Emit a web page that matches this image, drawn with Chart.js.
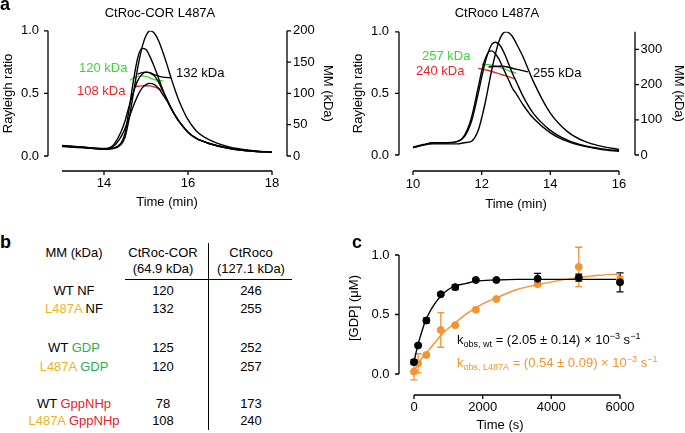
<!DOCTYPE html>
<html>
<head>
<meta charset="utf-8">
<script src="https://cdn.jsdelivr.net/npm/chart.js@4.4.1/dist/chart.umd.min.js"></script>
<style>
  body { margin: 0; background: #fff; }
  #wrap { position: relative; width: 685px; height: 433px; overflow: hidden;
          font-family: 'Liberation Sans', Arial, sans-serif; color: #000; }
  canvas { position: absolute; }
  .t { position: absolute; font-size: 13px; line-height: 13px; white-space: nowrap; }
  .c { width: 140px; text-align: center; }
  .panel { position: absolute; font-weight: bold; font-size: 18px; line-height: 18px; }
  sub, sup { font-size: 9px; line-height: 0; }
  sub { vertical-align: -3px; }
  sup { vertical-align: 5px; }
  .or { color: #f2b21c; }
  .gr { color: #2fae4a; }
  .rd { color: #e8202a; }
</style>
</head>
<body>
<div id="wrap">
  <canvas id="corChart" width="340" height="215" style="left:0;top:0"></canvas>
  <canvas id="rocoChart" width="345" height="215" style="left:340px;top:0"></canvas>
  <canvas id="gdpChart" width="345" height="213" style="left:340px;top:220px"></canvas>

  <!-- panel a labels -->
  <div class="panel" style="left:0;top:-5px">a</div>
  <div class="t c" style="left:90px;top:6px">CtRoc-COR L487A</div>
  <div class="t c" style="left:427px;top:6px">CtRoco L487A</div>
  <div class="t" style="left:79px;top:61px;color:#3fd43a">120 kDa</div>
  <div class="t" style="left:77px;top:84px;color:#e8262b">108 kDa</div>
  <div class="t" style="left:176px;top:66px">132 kDa</div>
  <div class="t" style="left:422px;top:49px;color:#3fd43a">257 kDa</div>
  <div class="t" style="left:416px;top:64px;color:#e8262b">240 kDa</div>
  <div class="t" style="left:533px;top:66px">255 kDa</div>

  <!-- panel b table -->
  <div class="panel" style="left:0;top:233px">b</div>
  <div class="t c" style="left:4px;top:246px">MM (kDa)</div>
  <div class="t c" style="left:93px;top:246px">CtRoc-COR</div>
  <div class="t c" style="left:93px;top:262px">(64.9 kDa)</div>
  <div class="t c" style="left:181px;top:246px">CtRoco</div>
  <div class="t c" style="left:181px;top:262px">(127.1 kDa)</div>
  <div style="position:absolute;left:125px;top:279px;width:167px;height:1px;background:#000"></div>
  <div style="position:absolute;left:208px;top:243px;width:1px;height:187px;background:#000"></div>
  <div id="tableRows"></div>

  <!-- panel c labels -->
  <div class="panel" style="left:352px;top:233px">c</div>
  <div class="t" style="left:500px;top:418px;transform:translateX(-50%)">Time (s)</div>
  <div class="t" style="left:353px;top:308px;transform:translate(-50%,-50%) rotate(-90deg)">[GDP] (μM)</div>
  <div class="t" style="left:457px;top:333px">k<sub>obs, wt</sub> = (2.05 ± 0.14) × 10<sup>−3</sup> s<sup>−1</sup></div>
  <div class="t" style="left:457px;top:356px;color:#f59331">k<sub>obs, L487A</sub> = (0.54 ± 0.09) × 10<sup>−3</sup> s<sup>−1</sup></div>
</div>

<script>
// ---- panel a: CtRoc-COR L487A (time in min, Rayleigh ratio) ----
const corTime = [13.0, 13.5, 14.0, 14.2, 14.4, 14.5, 14.6, 14.7, 14.8, 14.9, 15.0, 15.1, 15.2,
                 15.3, 15.4, 15.5, 15.6, 15.7, 15.8, 16.0, 16.2, 16.5, 17.0, 17.5, 18.0];
const corRatio1 = [0.085, 0.07, 0.055, 0.06, 0.09, 0.15, 0.30, 0.50, 0.70, 0.86, 0.96, 1.00, 0.98,
                   0.92, 0.83, 0.73, 0.62, 0.52, 0.43, 0.29, 0.20, 0.13, 0.07, 0.045, 0.03];
const corRatio2 = [0.08, 0.07, 0.055, 0.06, 0.10, 0.18, 0.38, 0.60, 0.78, 0.86, 0.85, 0.79, 0.71,
                   0.62, 0.53, 0.45, 0.38, 0.32, 0.27, 0.19, 0.14, 0.10, 0.06, 0.04, 0.03];
const corRatio3 = [0.08, 0.07, 0.06, 0.08, 0.19, 0.28, 0.40, 0.51, 0.60, 0.65, 0.67, 0.665, 0.64,
                   0.59, 0.52, 0.45, 0.38, 0.32, 0.27, 0.19, 0.14, 0.10, 0.06, 0.04, 0.03];
const corRatio4 = [0.075, 0.065, 0.055, 0.07, 0.15, 0.22, 0.31, 0.40, 0.48, 0.54, 0.57, 0.58, 0.57,
                   0.54, 0.49, 0.44, 0.38, 0.32, 0.27, 0.19, 0.14, 0.10, 0.06, 0.04, 0.03];
// molar mass traces (kDa)
const corMMGreenT = [14.62, 14.75, 14.9, 15.05, 15.2, 15.4];
const corMMGreen = [121, 126, 128, 126, 122, 120];
const corMMBlackT = [14.8, 15.0, 15.2, 15.4, 15.6];
const corMMBlack = [131, 134, 130, 126, 125];
const corMMRedT = [14.75, 14.9, 15.1, 15.25, 15.4];
const corMMRed = [111, 112, 112, 109, 105];
const corXTicks = [14, 16, 18];
const corMMTicks = [0, 50, 100, 150, 200];

// ---- panel a: CtRoco L487A ----
const rocoTime = [10.0, 10.3, 10.6, 11.0, 11.3, 11.5, 11.7, 11.9, 12.0, 12.1, 12.2, 12.3, 12.4,
                  12.5, 12.6, 12.7, 12.8, 12.9, 13.0, 13.2, 13.5, 14.0, 14.5, 15.0, 15.5, 16.0];
const rocoRatio1 = [0.06, 0.08, 0.09, 0.09, 0.09, 0.10, 0.11, 0.20, 0.30, 0.42, 0.56, 0.70, 0.82,
                    0.92, 0.98, 1.00, 0.99, 0.96, 0.91, 0.80, 0.60, 0.34, 0.19, 0.11, 0.07, 0.045];
const rocoRatio2 = [0.06, 0.08, 0.10, 0.10, 0.11, 0.15, 0.27, 0.50, 0.63, 0.75, 0.84, 0.90, 0.915,
                    0.90, 0.86, 0.80, 0.73, 0.66, 0.60, 0.48, 0.34, 0.20, 0.12, 0.075, 0.05, 0.035];
const rocoRatio3 = [0.065, 0.085, 0.10, 0.10, 0.11, 0.16, 0.30, 0.55, 0.68, 0.78, 0.835, 0.845, 0.82,
                    0.78, 0.72, 0.66, 0.60, 0.54, 0.50, 0.41, 0.30, 0.18, 0.11, 0.07, 0.045, 0.03];
const rocoMMGreenT = [12.0, 12.3, 12.6, 13.0];
const rocoMMGreen = [258, 255, 246, 232];
const rocoMMBlackT = [12.2, 12.6, 13.0, 13.35];
const rocoMMBlack = [250, 252, 244, 236];
const rocoMMRedT = [11.9, 12.2, 12.6, 12.95];
const rocoMMRed = [246, 240, 228, 217];
const rocoXTicks = [10, 12, 14, 16];
const rocoMMTicks = [0, 100, 200, 300];
const ratioTicks = [0, 0.5, 1.0];

// ---- panel b: table ----
const tableRows = [
  ['<span>WT</span> NF', '120', '246'],
  ['<span class="or">L487A</span> NF', '132', '255'],
  ['WT <span class="gr">GDP</span>', '125', '252'],
  ['<span class="or">L487A</span> <span class="gr">GDP</span>', '120', '257'],
  ['WT <span class="rd">GppNHp</span>', '78', '173'],
  ['<span class="or">L487A</span> <span class="rd">GppNHp</span>', '108', '240']
];
const tableRowY = [290, 308, 347, 366, 403, 420];

// ---- panel c: GDP release ----
const gdpTime = [0, 120, 360, 780, 1200, 1800, 2400, 3600, 4800, 6000];
const gdpWt = [0.10, 0.24, 0.45, 0.67, 0.73, 0.79, 0.79, 0.80, 0.81, 0.77];
const gdpWtErr = [0.02, 0.01, 0.02, 0.01, 0.02, 0.01, 0.01, 0.045, 0.03, 0.08];
const gdpMut = [0.02, 0.09, 0.16, 0.37, 0.41, 0.54, 0.63, 0.755, 0.90, 0.79];
const gdpMutErr = [0.07, 0.08, 0.01, 0.145, 0.01, 0.01, 0.01, 0.01, 0.165, 0.03];
const wtFitTime = [0, 100, 200, 300, 400, 600, 800, 1000, 1200, 1500, 1800, 2400, 3000, 4000, 5000, 6000];
const wtFit = [0.10, 0.23, 0.33, 0.42, 0.49, 0.59, 0.66, 0.71, 0.74, 0.76, 0.78, 0.79, 0.795, 0.795, 0.795, 0.795];
const mutFitTime = [0, 200, 400, 600, 800, 1200, 1600, 2000, 2400, 3000, 3600, 4200, 4800, 5400, 6000];
const mutFit = [0.03, 0.12, 0.19, 0.26, 0.33, 0.43, 0.52, 0.59, 0.64, 0.71, 0.75, 0.785, 0.81, 0.83, 0.84];
const gdpXTicks = [0, 2000, 4000, 6000];
const gdpYTicks = [0, 0.5, 1.0];

const ORANGE = '#f59331';
const FONT = 'Liberation Sans, Arial, sans-serif';
Chart.defaults.font.family = FONT;
Chart.defaults.font.size = 13;
Chart.defaults.color = '#000';

// table text
const rowsDiv = document.getElementById('tableRows');
tableRows.forEach((row, i) => {
  const top = tableRowY[i] - 6;
  rowsDiv.insertAdjacentHTML('beforeend',
    `<div class="t c" style="left:4px;top:${top}px">${row[0]}</div>` +
    `<div class="t c" style="left:93px;top:${top}px">${row[1]}</div>` +
    `<div class="t c" style="left:181px;top:${top}px">${row[2]}</div>`);
});

// draws detached axis lines with outward tick marks
const offsetAxes = {
  id: 'offsetAxes',
  afterDraw(chart, args, opts) {
    const ctx = chart.ctx;
    const area = chart.chartArea;
    ctx.save();
    ctx.strokeStyle = '#000';
    ctx.lineWidth = 1.3;
    ctx.beginPath();
    opts.axes.forEach(a => {
      const s = chart.scales[a.id];
      if (s.isHorizontal()) {
        const y = area.bottom + a.gap;
        ctx.moveTo(s.getPixelForValue(s.min), y);
        ctx.lineTo(s.getPixelForValue(s.max), y);
        s.ticks.forEach(t => {
          const x = s.getPixelForValue(t.value);
          ctx.moveTo(x, y);
          ctx.lineTo(x, y + 4);
        });
      } else {
        const right = s.position === 'right';
        const x = right ? area.right + a.gap : area.left - a.gap;
        ctx.moveTo(x, s.getPixelForValue(s.min));
        ctx.lineTo(x, s.getPixelForValue(s.max));
        s.ticks.forEach(t => {
          const y = s.getPixelForValue(t.value);
          ctx.moveTo(x, y);
          ctx.lineTo(right ? x + 4 : x - 4, y);
        });
      }
    });
    ctx.stroke();
    ctx.restore();
  }
};

// vertical error bars with caps
const errorBars = {
  id: 'errorBars',
  beforeDatasetsDraw(chart, args, opts) {
    const ctx = chart.ctx;
    const xs = chart.scales.x, ys = chart.scales.y;
    ctx.save();
    ctx.lineWidth = 1.3;
    opts.sets.forEach(set => {
      ctx.strokeStyle = set.color;
      ctx.beginPath();
      set.x.forEach((t, i) => {
        const e = set.err[i];
        const px = xs.getPixelForValue(t);
        const top = ys.getPixelForValue(set.y[i] + e);
        const bot = ys.getPixelForValue(set.y[i] - e);
        ctx.moveTo(px, top); ctx.lineTo(px, bot);
        ctx.moveTo(px - 3.5, top); ctx.lineTo(px + 3.5, top);
        ctx.moveTo(px - 3.5, bot); ctx.lineTo(px + 3.5, bot);
      });
      ctx.stroke();
    });
    ctx.restore();
  }
};

function pts(xs, ys) {
  return xs.map((x, i) => ({ x: x, y: ys[i] }));
}

function fixedTicks(values) {
  return scale => { scale.ticks = values.map(v => ({ value: v })); };
}

function secChart(id, c) {
  const datasets = c.ratios.map(r => ({
    data: pts(c.time, r), yAxisID: 'y', borderColor: '#000', borderWidth: 1.4,
    pointRadius: 0, cubicInterpolationMode: 'monotone'
  }));
  c.mm.forEach(m => datasets.push({
    data: pts(m.t, m.v), yAxisID: 'y2', borderColor: m.color, borderWidth: 1.4,
    pointRadius: 0, tension: 0.4
  }));
  return new Chart(document.getElementById(id), {
    type: 'line',
    data: { datasets },
    plugins: [offsetAxes],
    options: {
      responsive: false, animation: false, devicePixelRatio: 1,
      layout: { padding: { top: c.top, left: 0, right: 0, bottom: 0 } },
      plugins: {
        legend: { display: false }, tooltip: { enabled: false },
        offsetAxes: { axes: [{ id: 'x', gap: c.gapX }, { id: 'y', gap: 14 }, { id: 'y2', gap: c.gapY2 }] }
      },
      scales: {
        x: {
          type: 'linear', min: c.xMin, max: c.xMax,
          afterBuildTicks: fixedTicks(c.xTicks),
          afterFit: s => { s.height = c.xHeight; },
          grid: { display: false, drawTicks: false }, border: { display: false },
          ticks: { padding: c.xPad, callback: v => String(v) },
          title: { display: true, text: 'Time (min)', font: { size: 13, lineHeight: 1 },
                   padding: { top: 0, bottom: c.xTitlePad } }
        },
        y: {
          position: 'left', min: 0, max: 1,
          afterBuildTicks: fixedTicks(ratioTicks),
          afterFit: s => { s.width = c.yWidth; },
          grid: { display: false, drawTicks: false }, border: { display: false },
          ticks: { padding: c.yPad, callback: v => v.toFixed(1) },
          title: { display: true, text: 'Rayleigh ratio', font: { size: 13, lineHeight: 1 },
                   padding: { top: c.yTitlePad, bottom: 0 } }
        },
        y2: {
          position: 'right', min: 0, max: c.mmMax,
          afterBuildTicks: fixedTicks(c.mmTicks),
          afterFit: s => { s.width = c.y2Width; },
          grid: { display: false, drawTicks: false }, border: { display: false },
          ticks: { padding: c.y2Pad, callback: v => String(v) },
          title: { display: true, text: 'MM (kDa)', font: { size: 13, lineHeight: 1 },
                   padding: { top: c.y2TitlePad, bottom: 0 } }
        }
      }
    }
  });
}

secChart('corChart', {
  time: corTime, ratios: [corRatio1, corRatio2, corRatio3, corRatio4],
  mm: [
    { t: corMMBlackT, v: corMMBlack, color: '#000' },
    { t: corMMGreenT, v: corMMGreen, color: '#3fd43a' },
    { t: corMMRedT, v: corMMRed, color: '#e8262b' }
  ],
  xMin: 13, xMax: 18, xTicks: corXTicks, mmMax: 200, mmTicks: corMMTicks,
  top: 22, xHeight: 59, yWidth: 62, y2Width: 68,
  gapX: 15, gapY2: 15,
  xPad: 20, xTitlePad: 6.5, yPad: 23, yTitlePad: 2, y2Pad: 21, y2TitlePad: 5.5
});

secChart('rocoChart', {
  time: rocoTime, ratios: [rocoRatio1, rocoRatio2, rocoRatio3],
  mm: [
    { t: rocoMMBlackT, v: rocoMMBlack, color: '#000' },
    { t: rocoMMGreenT, v: rocoMMGreen, color: '#3fd43a' },
    { t: rocoMMRedT, v: rocoMMRed, color: '#e8262b' }
  ],
  xMin: 10, xMax: 16, xTicks: rocoXTicks, mmMax: 350, mmTicks: rocoMMTicks,
  top: 22, xHeight: 60, yWidth: 73, y2Width: 66,
  gapX: 16, gapY2: 16,
  xPad: 22, xTitlePad: 4.5, yPad: 24, yTitlePad: 11.5, y2Pad: 21.5, y2TitlePad: 0
});

new Chart(document.getElementById('gdpChart'), {
  type: 'scatter',
  data: {
    datasets: [
      { data: pts(gdpTime, gdpWt), backgroundColor: '#000', borderColor: '#000', pointRadius: 3.5, clip: false },
      { data: pts(gdpTime, gdpMut), backgroundColor: ORANGE, borderColor: ORANGE, pointRadius: 3.5, clip: false },
      { data: pts(wtFitTime, wtFit), showLine: true, borderColor: '#000', borderWidth: 1.4, pointRadius: 0,
        cubicInterpolationMode: 'monotone' },
      { data: pts(mutFitTime, mutFit), showLine: true, borderColor: ORANGE, borderWidth: 1.4, pointRadius: 0,
        cubicInterpolationMode: 'monotone' }
    ]
  },
  plugins: [offsetAxes, errorBars],
  options: {
    responsive: false, animation: false, devicePixelRatio: 1,
    layout: { padding: { top: 35, left: 0, right: 65, bottom: 0 } },
    plugins: {
      legend: { display: false }, tooltip: { enabled: false },
      offsetAxes: { axes: [{ id: 'x', gap: 21 }, { id: 'y', gap: 15 }] },
      errorBars: { sets: [
        { x: gdpTime, y: gdpMut, err: gdpMutErr, color: ORANGE },
        { x: gdpTime, y: gdpWt, err: gdpWtErr, color: '#000' }
      ] }
    },
    scales: {
      x: {
        type: 'linear', min: 0, max: 6000,
        afterBuildTicks: fixedTicks(gdpXTicks),
        afterFit: s => { s.height = 59; },
        grid: { display: false, drawTicks: false }, border: { display: false },
        ticks: { padding: 25.5, callback: v => String(v) }
      },
      y: {
        min: 0, max: 1,
        afterBuildTicks: fixedTicks(gdpYTicks),
        afterFit: s => { s.width = 74; },
        grid: { display: false, drawTicks: false }, border: { display: false },
        ticks: { padding: 24.5, callback: v => v.toFixed(1) }
      }
    }
  }
});
</script>
</body>
</html>
